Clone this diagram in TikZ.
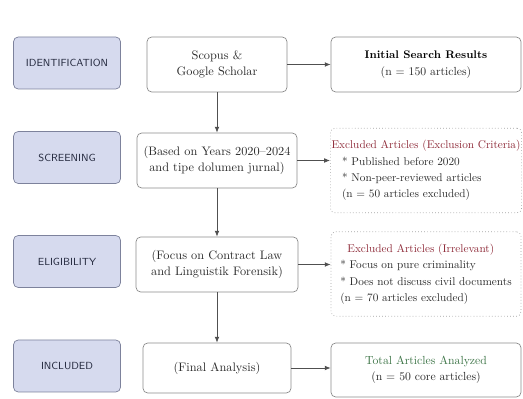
\documentclass[tikz,border=0pt]{standalone}
\usetikzlibrary{arrows.meta}

\begin{document}
\begin{tikzpicture}[x=0.03cm,y=-0.03cm,
	stagebox/.style={draw=stageline,fill=stagefill,rounded corners=4pt,line width=0.6pt,minimum width=3.21cm,minimum height=1.56cm,text=stagetext,font=\sffamily\fontsize{8.8}{11}\selectfont},
	midbox/.style={draw=boxline,rounded corners=4pt,line width=0.6pt,align=center,minimum height=1.65cm,text=bodytext,font=\fontsize{10.5}{14}\selectfont},
	resbox/.style={draw=boxline,rounded corners=4pt,line width=0.6pt,align=center,minimum width=5.7cm,text=bodytext,font=\fontsize{10}{14}\selectfont},
	exbox/.style={resbox,draw=exline,dotted,align=left,minimum height=2.54cm,inner xsep=1pt,font=\fontsize{9.6}{14}\selectfont},
	flow/.style={-{Latex[length=5pt,width=4pt]},draw=flowline,line width=0.6pt}]
					\definecolor{stagefill}{HTML}{D6DAEE}
					\definecolor{stageline}{HTML}{7D829C}
					\definecolor{stagetext}{HTML}{262B40}
					\definecolor{boxline}{HTML}{8C8C8C}
					\definecolor{exline}{HTML}{A0A0A0}
					\definecolor{flowline}{HTML}{505050}
					\definecolor{bodytext}{HTML}{2A2A2A}
					\definecolor{exred}{HTML}{8E2A38}
					\definecolor{totgreen}{HTML}{3C7446}
					\useasboundingbox (0,0) rectangle (523,399);

					\node[stagebox] (identification) at (67,63) {IDENTIFICATION};
					\node[stagebox] (screening) at (67,157.5) {SCREENING};
					\node[stagebox] (eligibility) at (67,261.5) {ELIGIBILITY};
					\node[stagebox] (included) at (67,366) {INCLUDED};

					\node[midbox,minimum width=4.2cm] (sources) at (217,64.5) {Scopus \&\\Google Scholar};
					\node[midbox,minimum width=4.8cm] (years) at (217,160.5) {(Based on Years 2020--2024\\and tipe dolumen jurnal)};
					\node[midbox,minimum width=4.86cm] (focus) at (217,264.5) {(Focus on Contract Law\\and Linguistik Forensik)};
					\node[midbox,minimum width=4.44cm,minimum height=1.5cm] (final) at (217,368) {(Final Analysis)};

					\node[resbox,minimum height=1.65cm] (initial) at (426,64.5) {\textcolor{black}{\fontsize{9.4}{14}\selectfont\textbf{Initial Search Results}}\\(n = 150 articles)};
					\node[exbox] (excl1) at (426,170.5) {\textcolor{exred}{Excluded Articles (Exclusion Criteria)}\\\hspace*{9pt}* Published before 2020\\\hspace*{9pt}* Non-peer-reviewed articles\\\hspace*{9pt}(n = 50 articles excluded)};
					\node[exbox] (excl2) at (426,274) {\hspace*{6pt}\textcolor{exred}{Excluded Articles (Irrelevant)}\\* Focus on pure criminality\\* Does not discuss civil documents\\(n = 70 articles excluded)};
					\node[resbox,minimum height=1.62cm] (total) at (426,370) {\textcolor{totgreen}{Total Articles Analyzed}\\(n = 50 core articles)};

					\draw[flow] (sources) -- (years);
					\draw[flow] (years) -- (focus);
					\draw[flow] (focus) -- (final);
					\draw[flow] (sources.east) -- (sources.east -| initial.west);
					\draw[flow] (years.east) -- (years.east -| excl1.west);
					\draw[flow] (focus.east) -- (focus.east -| excl2.west);
					\draw[flow] (final.east) -- (final.east -| total.west);
				\end{tikzpicture}
\end{document}
